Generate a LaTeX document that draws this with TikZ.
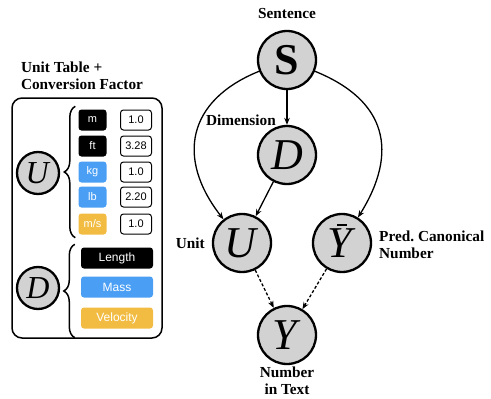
\documentclass[tikz,border=0pt]{standalone}
\usepackage{fontspec}
\setmainfont{Liberation Serif}
\newfontfamily\boxfont{Liberation Sans}
\usepackage{tikz}
\usetikzlibrary{arrows.meta,decorations.pathreplacing}
\definecolor{massblue}{HTML}{4A9FF5}
\definecolor{velyellow}{HTML}{F2BC42}

\begin{document}
\begin{tikzpicture}[x=1pt,y=-1pt,
  rv/.style={circle,draw,line width=2.3pt,fill=gray!35,minimum size=58pt,inner sep=0pt,font=\fontsize{44}{44}\selectfont},
  small/.style={rv,minimum size=42pt,font=\fontsize{32}{32}\selectfont},
  lbl/.style={font=\fontsize{15.3}{17.5}\selectfont\bfseries,align=center,inner sep=0pt},
  edge/.style={line width=1.3pt,-{Stealth[length=7pt,width=5.5pt]}},
  ubox/.style={rounded corners=3pt,minimum width=28pt,minimum height=21pt,inner sep=0pt,text=white,font=\boxfont\fontsize{11}{11}\selectfont},
  fbox/.style={draw,line width=1pt,rounded corners=3pt,minimum width=31pt,minimum height=20pt,inner sep=0pt,font=\boxfont\fontsize{11}{11}\selectfont},
  dbox/.style={ubox,minimum width=72pt,font=\boxfont\fontsize{12}{12}\selectfont},
  brace/.style={decorate,decoration={brace,amplitude=11pt},line width=1.5pt}]
\useasboundingbox (0,0) rectangle (491,399);

\node[rv] (S) at (287,60) {\textbf{S}};
\node[rv] (D) at (287,155) {\textit{D}};
\node[rv] (U) at (242,243) {\textit{U}};
\node[rv] (Yb) at (342,243) {\raisebox{-4pt}{\textit{Y}}};
\draw[line width=1.7pt] ([xshift=-5pt,yshift=18pt]Yb.center) -- ([xshift=5pt,yshift=18pt]Yb.center);
\node[rv] (Y) at (287,335) {\textit{Y}};

\node[lbl] (sent) at (287,14) {Sentence};
\node[lbl,anchor=east] (dim) at (276,120) {Dimension};
\node[lbl,anchor=east] (unit) at (205,243) {Unit};
\node[lbl,anchor=west,align=left] (pcn) at (379,245) {Pred.\ Canonical\\Number};
\node[lbl] (nit) at (287,381) {Number\\in Text};

\draw[edge] (S) -- (D);
\draw[edge] (D) -- (U);
\draw[edge] (S) to[out=202,in=128,looseness=1.3] (U);
\draw[edge] (S) to[out=-22,in=58,looseness=1.3] (Yb);
\draw[edge,dash pattern=on 3pt off 2pt] (U) -- (Y);
\draw[edge,dash pattern=on 3pt off 2pt] (Yb) -- (Y);

\node[lbl,align=left] (title) at (82,76) {Unit Table +\\Conversion Factor};
\draw[line width=1.5pt,rounded corners=10pt] (12,98) rectangle (162,338);

\node[small] (Ul) at (38,173) {\textit{U}};
\node[small] (Dl) at (38,288) {\textit{D}};

\node[ubox,fill=black] (m) at (92.5,120) {m};
\node[ubox,fill=black] (ft) at (92.5,146) {ft};
\node[ubox,fill=massblue] (kg) at (92.5,172) {kg};
\node[ubox,fill=massblue] (lb) at (92.5,197) {lb};
\node[ubox,fill=velyellow] (ms) at (92.5,224) {m/s};

\node[fbox] (fm) at (136,120) {1.0};
\node[fbox] (fft) at (136,146) {3.28};
\node[fbox] (fkg) at (136,172) {1.0};
\node[fbox] (flb) at (136,197) {2.20};
\node[fbox] (fms) at (136,224) {1.0};

\node[dbox,fill=black] (len) at (117,258) {Length};
\node[dbox,fill=massblue] (mass) at (117,287) {Mass};
\node[dbox,fill=velyellow] (vel) at (117,318) {Velocity};

\draw[brace] ([xshift=-3pt,yshift=-3pt]ms.south west) -- ([xshift=-3pt,yshift=3pt]m.north west);
\draw[brace] ([xshift=-6pt,yshift=-9pt]vel.south west) -- ([xshift=-6pt,yshift=3pt]len.north west);
\end{tikzpicture}
\end{document}
